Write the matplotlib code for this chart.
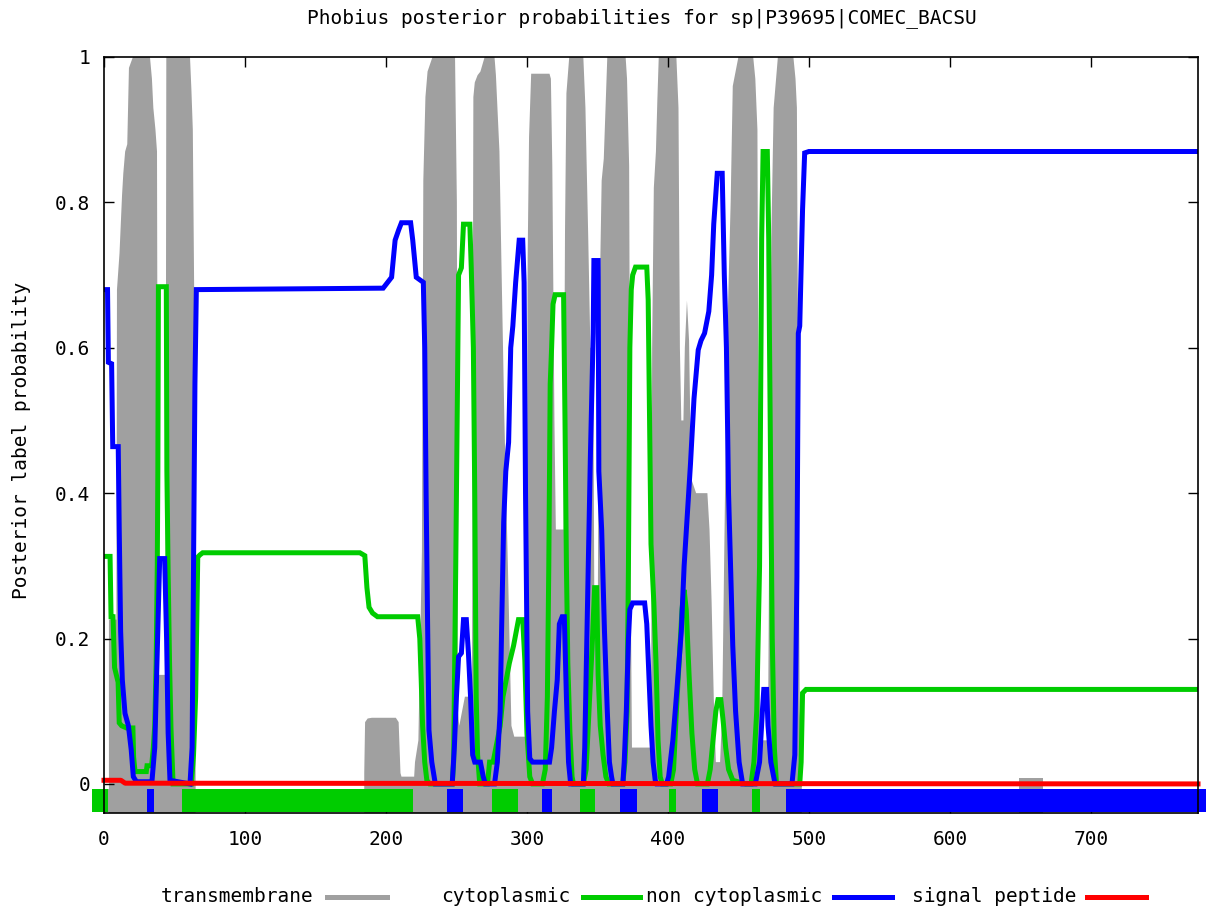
import numpy as np
import matplotlib
matplotlib.use("Agg")
import matplotlib.pyplot as plt
from matplotlib.lines import Line2D

# ---------------- data (residue position, posterior probability) ----------------
tm_pos = [0, 3.3, 3.5, 8.8, 9.2, 11, 12.8, 13.7, 15, 16.5, 17.7, 20.5, 32.6, 34, 35, 36.5, 37.6, 38.4, 43.6, 44.2,
          61, 62, 63, 64.3, 65, 66, 184.3, 184.6, 185.2, 187, 190, 207, 209, 210.3, 211, 220, 220.6, 223, 225.5,
          226.5, 228, 229.5, 233, 249, 250.3, 251, 252, 256, 261, 262, 263, 265, 267, 270, 277, 278, 280.5, 282,
          284, 286.5, 289, 291, 299.5, 300.5, 301.5, 303, 316, 317, 318, 319.5, 320.5, 326, 327, 328, 330, 340,
          341.5, 343.5, 345, 347, 347.8, 350.3, 351, 353, 354.5, 357, 370, 371, 372.5, 373.5, 374.5, 388, 388.8,
          390, 391.5, 392.5, 393.5, 406, 407.5, 408.5, 409.5, 411, 412, 413.5, 415, 416.5, 420, 428, 429.5, 431,
          432.5, 434, 437, 438.5, 440.5, 442, 444.5, 446, 450, 460.5, 462, 463.5, 464.5, 465.5, 471, 472.3, 473.5,
          475, 478, 489, 490.5, 491.5, 492.5, 493.5, 495, 497, 648, 649, 666, 667, 776]
tm_val = [0, 0, 0.226, 0.226, 0.68, 0.73, 0.81, 0.84, 0.87, 0.88, 0.985, 1.0, 1.0, 0.97, 0.93, 0.9, 0.87, 0.15, 0.15, 1.0,
          1.0, 0.955, 0.9, 0.6, 0.02, 0, 0, 0.015, 0.085, 0.09, 0.091, 0.091, 0.085, 0.015, 0.01, 0.01, 0.03, 0.06, 0.32,
          0.83, 0.945, 0.98, 1.0, 1.0, 0.8, 0.1, 0.08, 0.12, 0.12, 0.945, 0.965, 0.975, 0.98, 1.0, 1.0, 0.975, 0.87, 0.707,
          0.5, 0.3, 0.08, 0.065, 0.065, 0.725, 0.89, 0.977, 0.977, 0.97, 0.85, 0.5, 0.35, 0.35, 0.76, 0.95, 1.0, 1.0,
          0.93, 0.75, 0.6, 0.6, 0.25, 0.25, 0.6, 0.83, 0.86, 1.0, 1.0, 0.97, 0.85, 0.3, 0.05, 0.05, 0.6,
          0.82, 0.87, 0.94, 1.0, 1.0, 0.93, 0.6, 0.5, 0.5, 0.6, 0.665, 0.61, 0.42, 0.4, 0.4, 0.35, 0.25,
          0.12, 0.03, 0.03, 0.1, 0.4, 0.61, 0.8, 0.96, 1.0, 1.0, 0.97, 0.9, 0.3, 0.06, 0.06, 0.5, 0.77,
          0.93, 1.0, 1.0, 0.97, 0.93, 0.5, 0.1, 0.03, 0, 0, 0.008, 0.008, 0, 0]

cyto_pos = [0, 4.3, 5, 6.4, 7.5, 10, 10.8, 12.5, 16, 20.5, 21, 22, 30, 30.5, 33.8, 35, 36, 37, 37.8, 38.2, 38.6, 44.2,
            44.6, 45.5, 46.5, 47.5, 49, 62, 63.5, 65, 66.5, 68, 70, 181.5, 185, 186.5, 188, 190.5, 194, 222.5, 224,
            225, 226, 227.5, 229, 231, 247, 248, 249.5, 250.5, 251.5, 253.5, 255, 259.5, 260.5, 262, 263, 264, 265,
            266.5, 272, 273.5, 276, 279, 281, 283, 285, 287.5, 290.5, 294, 297, 298.5, 300, 302, 304, 311, 313, 314.5,
            315.5, 316.5, 317.5, 318.5, 320, 326, 327, 328, 329, 330.5, 332, 333, 340, 342, 344.5, 346.5, 348, 349.5,
            350.5, 352, 354, 356, 358, 368, 369.5, 371, 372, 373, 374, 375, 377, 385, 386, 387, 388, 390, 391.5, 393,
            394.5, 396, 402, 404, 406, 408, 410, 411.5, 413, 415, 417, 419, 421, 428, 430, 432, 434, 435.5, 437.5,
            439, 441, 443, 446, 455, 459, 461, 463, 465, 466, 466.5, 467.5, 470.5, 471.5, 472, 473, 474, 475.5, 477,
            493.5, 494.5, 495.5, 498, 776]
cyto_val = [0.313, 0.313, 0.23, 0.23, 0.16, 0.14, 0.084, 0.08, 0.077, 0.077, 0.037, 0.017, 0.017, 0.025, 0.025, 0.05,
            0.08, 0.166, 0.3, 0.43, 0.684, 0.684, 0.43, 0.29, 0.166, 0.077, 0.0, 0, 0.04, 0.12, 0.312, 0.315, 0.318,
            0.318, 0.314, 0.27, 0.243, 0.235, 0.23, 0.23, 0.2, 0.143, 0.08, 0.03, 0.005, 0, 0, 0.03, 0.3, 0.5, 0.7,
            0.71, 0.77, 0.77, 0.71, 0.6, 0.395, 0.12, 0.04, 0, 0, 0.03, 0.03, 0.06, 0.08, 0.12, 0.14, 0.166, 0.19,
            0.226, 0.226, 0.17, 0.07, 0.01, 0, 0, 0.02, 0.12, 0.3, 0.55, 0.6, 0.66, 0.673, 0.673, 0.5, 0.3, 0.166,
            0.07, 0.01, 0, 0, 0.02, 0.12, 0.2, 0.27, 0.27, 0.15, 0.08, 0.04, 0.01, 0, 0, 0.03, 0.1, 0.3, 0.6, 0.68,
            0.7, 0.711, 0.711, 0.666, 0.5, 0.33, 0.25, 0.17, 0.06, 0.01, 0, 0, 0.02, 0.1, 0.17, 0.24, 0.267, 0.24,
            0.15, 0.07, 0.02, 0, 0, 0.02, 0.06, 0.1, 0.116, 0.116, 0.09, 0.05, 0.02, 0.005, 0, 0, 0.03, 0.1, 0.3,
            0.6, 0.75, 0.87, 0.87, 0.75, 0.62, 0.4, 0.2, 0.05, 0, 0, 0.03, 0.125, 0.13, 0.13]

noncyto_pos = [0, 2.5, 3.1, 5.4, 6.2, 10.1, 10.8, 11.8, 13, 14.9, 17.3, 19.3, 20.8, 23, 34, 36, 38, 39.5, 43, 44.4,
               45.5, 46.8, 61, 62.5, 63.5, 64.5, 65.5, 198, 204, 206.5, 209, 211, 217.5, 219, 221.5, 226.5, 227.5,
               228.5, 229.5, 230.5, 232.5, 235, 247, 248.5, 250, 251.5, 253.5, 255, 257, 258.5, 260, 261.5, 263, 267,
               269, 270.5, 277, 279, 281, 282, 283.5, 285, 287, 288.5, 290, 292, 294.5, 297, 298, 299, 300.5, 302,
               304, 316, 317.5, 319.5, 321.5, 323, 325, 326.5, 328, 329.5, 331, 340, 341, 343, 345, 347, 347.5,
               350.5, 351, 353, 355, 357, 358.5, 360, 361, 368, 369, 370.5, 372, 373, 375, 383.5, 385, 386.5, 388,
               389.5, 391, 392, 399, 400.5, 403.5, 406, 409.5, 411.5, 414, 416, 418.5, 421.5, 423.5, 426, 429, 431,
               432.5, 435, 438.5, 440, 441.5, 443, 446, 448, 450.5, 453, 462, 465, 467, 468, 470, 471, 473, 476, 488,
               490, 491.5, 492.5, 493.5, 495.5, 497, 500, 776]
noncyto_val = [0.68, 0.68, 0.58, 0.578, 0.464, 0.464, 0.35, 0.21, 0.143, 0.097, 0.08, 0.047, 0.01, 0.003, 0.003, 0.05,
               0.2, 0.31, 0.31, 0.2, 0.07, 0.005, 0.0, 0.05, 0.3, 0.55, 0.68, 0.682, 0.697, 0.748, 0.762, 0.772, 0.772,
               0.748, 0.697, 0.69, 0.6, 0.395, 0.226, 0.074, 0.03, 0, 0, 0.05, 0.12, 0.175, 0.18, 0.226, 0.226, 0.18,
               0.12, 0.04, 0.03, 0.03, 0.01, 0, 0, 0.03, 0.1, 0.21, 0.36, 0.43, 0.47, 0.6, 0.63, 0.69, 0.748, 0.748,
               0.69, 0.4, 0.1, 0.035, 0.03, 0.03, 0.05, 0.1, 0.143, 0.22, 0.23, 0.23, 0.12, 0.03, 0, 0, 0.05, 0.25,
               0.45, 0.62, 0.72, 0.72, 0.43, 0.35, 0.21, 0.1, 0.03, 0.01, 0, 0, 0.03, 0.1, 0.2, 0.24, 0.249, 0.249,
               0.22, 0.15, 0.08, 0.03, 0.005, 0, 0, 0.01, 0.06, 0.12, 0.21, 0.3, 0.377, 0.44, 0.53, 0.597, 0.61, 0.62,
               0.65, 0.7, 0.77, 0.84, 0.84, 0.7, 0.6, 0.4, 0.19, 0.1, 0.03, 0, 0, 0.03, 0.1, 0.13, 0.13, 0.08, 0.03,
               0, 0, 0.04, 0.285, 0.62, 0.63, 0.79, 0.868, 0.87, 0.87]

signal_pos = [0, 12, 15, 776]
signal_val = [0.005, 0.005, 0.001, 0.0]

# predicted topology bar: segment start, segment end, state
bar_start = [-8.5, 2.8, 30.5, 35.5, 55.3, 219, 243, 254.6, 275, 294, 311, 318, 337.6, 348, 366, 378, 400.7, 406,
             424, 435.5, 459.6, 465, 484]
bar_end = [2.8, 30.5, 35.5, 55.3, 219, 243, 254.6, 275, 294, 311, 318, 337.6, 348, 366, 378, 400.7, 406, 424,
           435.5, 459.6, 465, 484, 781.5]
bar_state = ["cyto", "tm", "noncyto", "tm", "cyto", "tm", "noncyto", "tm", "cyto", "tm", "noncyto", "tm", "cyto",
             "tm", "noncyto", "tm", "cyto", "tm", "noncyto", "tm", "cyto", "tm", "noncyto"]

title = "Phobius posterior probabilities for sp|P39695|COMEC_BACSU"
ylabel = "Posterior label probability"
legend_labels = ["transmembrane", "cytoplasmic", "non cytoplasmic", "signal peptide"]
x_ticks = [0, 100, 200, 300, 400, 500, 600, 700]
y_ticks = [0, 0.2, 0.4, 0.6, 0.8, 1]
y_tick_labels = ["0", "0.2", "0.4", "0.6", "0.8", "1"]

# ---------------- styling ----------------
GRAY = "#a0a0a0"
GREEN = "#00cc00"
BLUE = "#0000ff"
RED = "#ff0000"
colors = {"tm": GRAY, "cyto": GREEN, "noncyto": BLUE}
FONT = "DejaVu Sans Mono"
FS = 14

W, H = 1206, 914
fig = plt.figure(figsize=(W / 100, H / 100), dpi=100)
ax = fig.add_axes([104 / W, 1 - 813 / H, (1198 - 104) / W, (813 - 57) / H])

YMIN = -0.04
ax.set_xlim(0, 776)
ax.set_ylim(YMIN, 1.0)

tm_x = np.array(tm_pos, float)
tm_y = np.array(tm_val, float)
ax.fill_between(tm_x, YMIN, tm_y, where=tm_y > 0, color=GRAY, linewidth=0, interpolate=False, zorder=1)

lw = 3.6
ax.plot(cyto_pos, cyto_val, color=GREEN, lw=lw, zorder=3, solid_joinstyle="miter")
ax.plot(noncyto_pos, noncyto_val, color=BLUE, lw=lw, zorder=4, solid_joinstyle="miter")

for s, e, st in zip(bar_start, bar_end, bar_state):
    ax.fill_between([s, e], -0.038, -0.007, color=colors[st], linewidth=0, zorder=5, clip_on=False)

ax.plot(signal_pos, signal_val, color=RED, lw=lw, zorder=6, clip_on=False)

ax.set_xticks(x_ticks)
ax.set_xticklabels([str(t) for t in x_ticks])
ax.set_yticks(y_ticks)
ax.set_yticklabels(y_tick_labels)
ax.tick_params(direction="in", length=7, width=1.0, top=True, right=True, labelsize=FS, color="black")
ax.tick_params(axis="x", pad=12.5)
ax.tick_params(axis="y", pad=10)
for lab in ax.get_xticklabels() + ax.get_yticklabels():
    lab.set_family(FONT)
for sp in ax.spines.values():
    sp.set_linewidth(1.2)
    sp.set_zorder(7)

fig.text(642 / W, 1 - 18 / H, title, ha="center", va="center", family=FONT, fontsize=FS)
fig.text(22 / W, 1 - 440 / H, ylabel, ha="center", va="center", rotation=90, family=FONT, fontsize=FS)

# legend (gnuplot-like key below the plot)
text_right = [313, 570, 822, 1076]
samp_l = [327, 583, 834, 1087]
samp_r = [387, 640, 892, 1146]
leg_colors = [GRAY, GREEN, BLUE, RED]
ly = 1 - 897 / H
for lab, tr, sl, sr, c in zip(legend_labels, text_right, samp_l, samp_r, leg_colors):
    fig.text(tr / W, ly, lab, ha="right", va="center", family=FONT, fontsize=FS)
    fig.add_artist(Line2D([sl / W, sr / W], [ly, ly], color=c, lw=lw, transform=fig.transFigure))

fig.savefig("out.png", dpi=100)
